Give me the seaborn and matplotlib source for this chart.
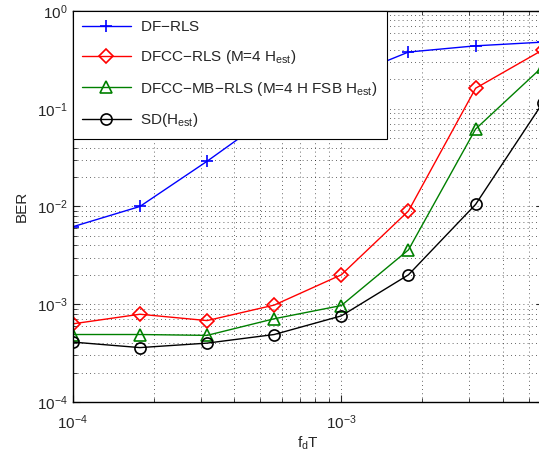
import numpy as np
import pandas as pd
import matplotlib
matplotlib.use("Agg")
import matplotlib.pyplot as plt
import seaborn as sns
from matplotlib.ticker import LogLocator, NullFormatter

# Normalized Doppler values f_d T
fdT = [1e-4, 1.778e-4, 3.162e-4, 5.623e-4, 1e-3, 1.778e-3, 3.162e-3, 5.623e-3]

ber_df_rls = [6.2e-3, 1.0e-2, 2.9e-2, 9.0e-2, 2.0e-1, 3.8e-1, 4.4e-1, 4.8e-1]
ber_dfcc_rls = [6.3e-4, 7.9e-4, 6.8e-4, 9.8e-4, 2.0e-3, 9.0e-3, 1.62e-1, 4.0e-1]
ber_dfcc_mb_rls = [4.9e-4, 4.9e-4, 4.8e-4, 7.1e-4, 9.7e-4, 3.6e-3, 6.2e-2, 2.7e-1]
ber_sd = [4.1e-4, 3.6e-4, 4.0e-4, 4.9e-4, 7.6e-4, 2.0e-3, 1.05e-2, 1.15e-1]

labels = [
    "DF$-$RLS",
    r"DFCC$-$RLS (M=4 H$_{\mathrm{est}}$)",
    r"DFCC$-$MB$-$RLS (M=4 H FSB H$_{\mathrm{est}}$)",
    r"SD(H$_{\mathrm{est}}$)",
]
series = [ber_df_rls, ber_dfcc_rls, ber_dfcc_mb_rls, ber_sd]
colors = ["#0000ff", "#ff0000", "#008000", "#000000"]
markers = ["+", "D", "^", "o"]
msizes = [9, 7, 8, 8]

sns.set_style("ticks")
plt.rcParams["font.family"] = ["Liberation Sans", "DejaVu Sans"]
plt.rcParams["mathtext.fontset"] = "custom"
plt.rcParams["mathtext.rm"] = "Liberation Sans"
plt.rcParams["mathtext.it"] = "Liberation Sans"

fig = plt.figure(figsize=(5.39, 4.57), dpi=100)
ax = fig.add_axes([0.135, 0.1204, 0.872, 0.8556])

for y, lab, c, m, ms in zip(series, labels, colors, markers, msizes):
    df = pd.DataFrame({"fdT": fdT, "BER": y})
    sns.lineplot(
        data=df, x="fdT", y="BER", ax=ax, color=c, marker=m, markersize=ms,
        markerfacecolor="none", markeredgecolor=c, markeredgewidth=1.2,
        linewidth=1.0, label=lab,
    )

ax.set_xscale("log")
ax.set_yscale("log")
ax.set_xlim(1e-4, 10 ** -2.25)
ax.set_ylim(1e-4, 1)

ax.yaxis.set_major_locator(LogLocator(base=10, numticks=10))
ax.yaxis.set_minor_locator(LogLocator(base=10, subs=np.arange(2, 10), numticks=20))
ax.xaxis.set_major_locator(LogLocator(base=10, numticks=10))
ax.xaxis.set_minor_locator(LogLocator(base=10, subs=np.arange(2, 10), numticks=20))
ax.xaxis.set_minor_formatter(NullFormatter())
ax.yaxis.set_minor_formatter(NullFormatter())

ax.grid(True, which="major", color="black", linestyle=(0, (1, 4)), linewidth=0.6, alpha=0.8)
ax.grid(True, which="minor", color="black", linestyle=(0, (1, 4)), linewidth=0.6, alpha=0.8)
ax.set_axisbelow(True)

ax.tick_params(which="both", direction="in", top=True, right=True, labelsize=11)
ax.tick_params(which="major", length=5, width=0.8)
ax.tick_params(which="minor", length=3, width=0.6)
ax.tick_params(axis="x", which="major", pad=8)
for s in ax.spines.values():
    s.set_linewidth(1.0)
    s.set_color("black")

ax.set_xlabel("f$_{\\mathrm{d}}$T", fontsize=11, labelpad=2)
ax.set_ylabel("BER", fontsize=11, labelpad=6)

leg = ax.legend(loc="upper left", borderaxespad=0.0, fontsize=11, fancybox=False,
                framealpha=1.0, edgecolor="black", handlelength=3.2,
                labelspacing=0.9, borderpad=0.6, handletextpad=0.6)
leg.get_frame().set_linewidth(0.8)

fig.savefig("out.png", dpi=100)
